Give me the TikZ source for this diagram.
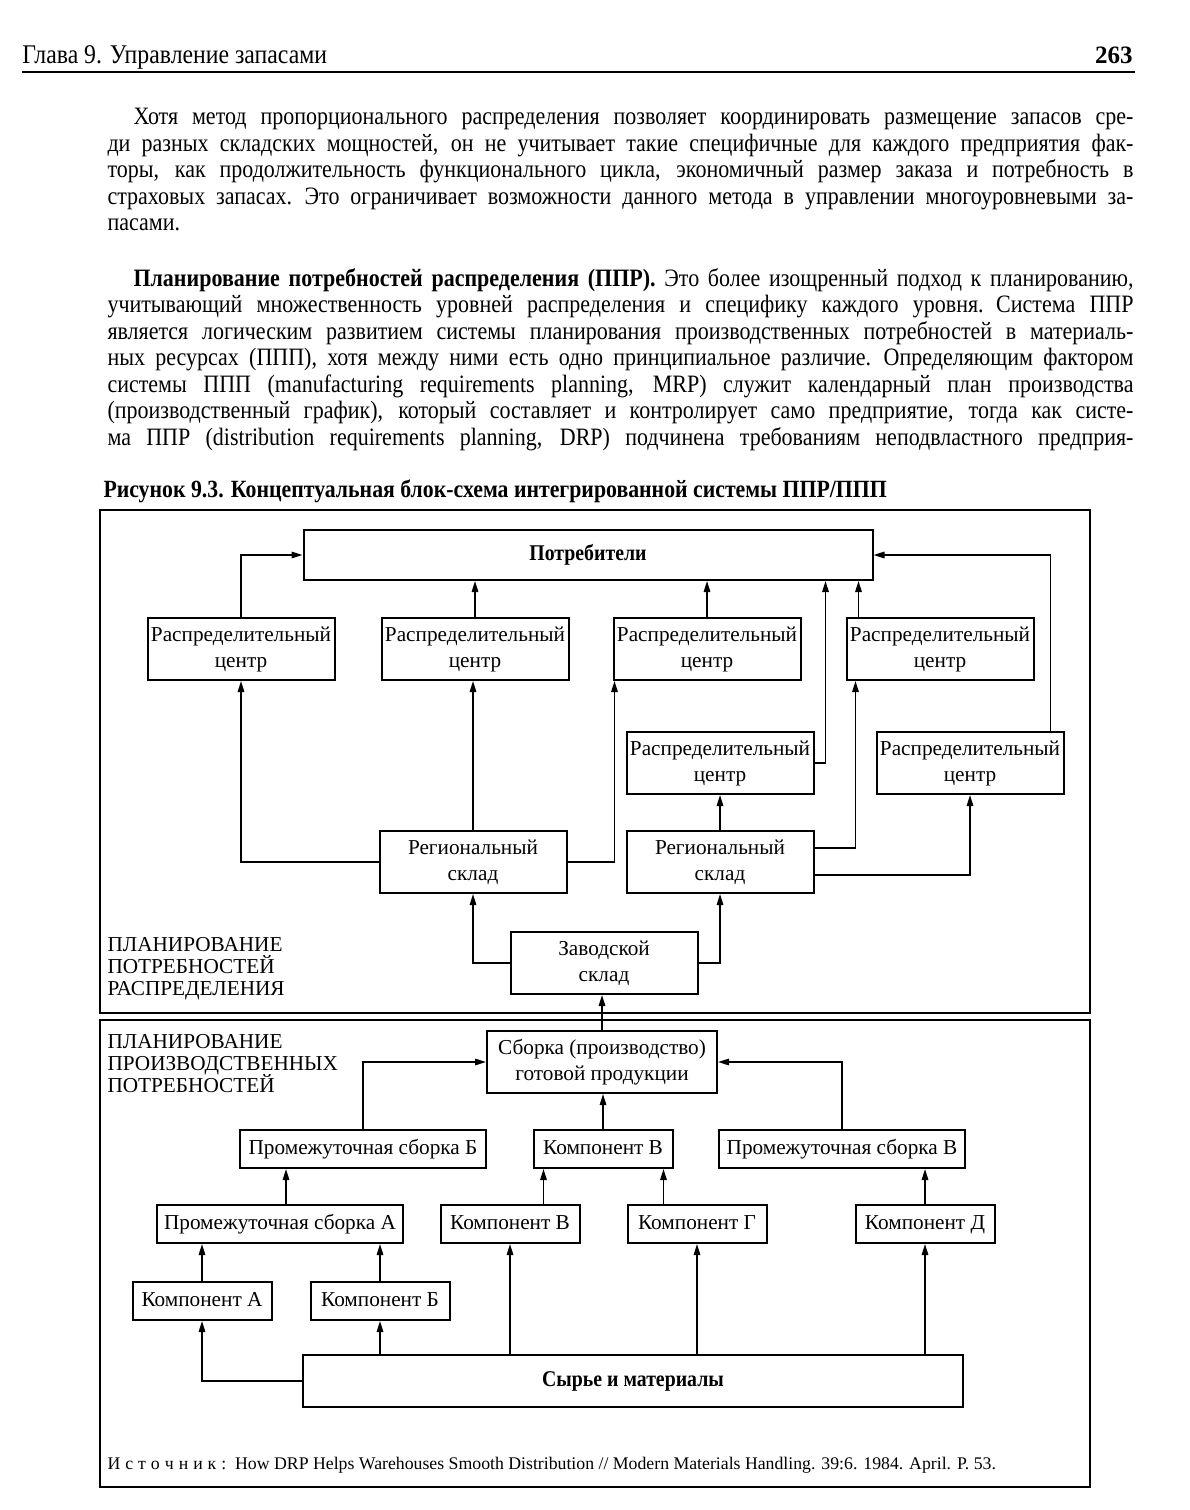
\documentclass[tikz,border=0pt]{standalone}
\usepackage{fontspec}
\setmainfont{Liberation Serif}
\newfontfamily\pagefont[FakeStretch=0.88]{Liberation Serif}
\usetikzlibrary{arrows.meta}
% one justified line of the page text
\newcommand\pline[1]{\noindent\hbox to 410.4pt{\spaceskip=0.25em plus 1em minus 0.08em\relax #1}\par}
\newcommand\pfirst[1]{\noindent\hbox to 410.4pt{\hskip 10.4pt\spaceskip=0.25em plus 1em minus 0.08em\relax #1}\par}
\newcommand\tightlines{\setlength{\lineskiplimit}{-6pt}}

\begin{document}
\begin{tikzpicture}[x=0.4pt,y=-0.4pt]
		\tikzstyle{Box} = [rectangle, draw=black, line width=0.8pt, fill=white, inner sep=1pt, align=center, font=\fontsize{8.5}{10.4}\selectfont]
		\tikzstyle{Center} = [Box, minimum width=74.8pt, minimum height=24.8pt]
		\tikzstyle{Part} = [Box, minimum width=55.6pt, minimum height=15.2pt, text height=6.2pt, text depth=1.8pt]
		\tikzstyle{SubAssy} = [Box, minimum width=98.4pt, minimum height=15.2pt, text height=6.2pt, text depth=1.8pt]
		\tikzstyle{Wide} = [Box, minimum height=20.8pt, font=\fontsize{9}{10.4}\selectfont\pagefont\bfseries]
		\tikzstyle{Label} = [anchor=north west, align=left, inner sep=0pt, font=\fontsize{8.5}{8.8}\selectfont\tightlines]
		\tikzstyle{Page} = [anchor=north west, text width=410.4pt, inner sep=0pt, font=\fontsize{10}{10.6}\selectfont\pagefont\tightlines]
		\tikzstyle{arrow} = [line width=0.6pt, -{Triangle[length=4.4pt,width=2.6pt]}]
		
		\useasboundingbox (0,0) rectangle (1190,1510);
		
		% page head and text
		\node (head) [anchor=base west, inner sep=0pt, font=\fontsize{10.8}{12}\selectfont\pagefont] at (22,64) {Глава 9. Управление запасами};
		\node (pageno) [anchor=base east, inner sep=0pt, font=\fontsize{10}{12}\selectfont\bfseries] at (1133,64) {263};
		\draw [line width=0.7pt] (22,72) -- (1135,72);
		\node (para1) [Page] at (107,108) {%
			\pfirst{Хотя метод пропорционального распределения позволяет координировать размещение запасов сре-}
			\pline{ди разных складских мощностей, он не учитывает такие специфичные для каждого предприятия фак-}
			\pline{торы, как продолжительность функционального цикла, экономичный размер заказа и потребность в}
			\pline{страховых запасах. Это ограничивает возможности данного метода в управлении многоуровневыми за-}
			\noindent пасами.\par};
		\node (para2) [Page] at (107,268) {%
			\pfirst{\textbf{Планирование потребностей распределения (ППР).} Это более изощренный подход к планированию,}
			\pline{учитывающий множественность уровней распределения и специфику каждого уровня. Система ППР}
			\pline{является логическим развитием системы планирования производственных потребностей в материаль-}
			\pline{ных ресурсах (ППП), хотя между ними есть одно принципиальное различие. Определяющим фактором}
			\pline{системы ППП (manufacturing requirements planning, MRP) служит календарный план производства}
			\pline{(производственный график), который составляет и контролирует само предприятие, тогда как систе-}
			\pline{ма ППР (distribution requirements planning, DRP) подчинена требованиям неподвластного предприя-}};
		\node (caption) [anchor=base west, inner sep=0pt, font=\fontsize{9.9}{12}\selectfont\pagefont\bfseries] at (103,497) {Рисунок 9.3. Концептуальная блок-схема интегрированной системы ППР/ППП};
		
		% two frames
		\draw [line width=0.7pt] (100,510) rectangle (1090,1013);
		\draw [line width=0.7pt] (100,1020) rectangle (1090,1487);
		\node (drpLabel) [Label] at (107,937) {ПЛАНИРОВАНИЕ\\ПОТРЕБНОСТЕЙ\\РАСПРЕДЕЛЕНИЯ};
		\node (mrpLabel) [Label] at (107,1034) {ПЛАНИРОВАНИЕ\\ПРОИЗВОДСТВЕННЫХ\\ПОТРЕБНОСТЕЙ};
		
		% distribution part
		\node (consumers) [Wide, minimum width=227.6pt, minimum height=20pt] at (588,555) {Потребители};
		\node (dc1) [Center] at (241,649) {Распределительный\\центр};
		\node (dc2) [Center] at (475,649) {Распределительный\\центр};
		\node (dc3) [Center] at (707,649) {Распределительный\\центр};
		\node (dc4) [Center] at (940,649) {Распределительный\\центр};
		\node (dc5) [Center] at (720,763) {Распределительный\\центр};
		\node (dc6) [Center] at (970,763) {Распределительный\\центр};
		\node (reg1) [Center] at (473,862) {Региональный\\склад};
		\node (reg2) [Center] at (720,862) {Региональный\\склад};
		\node (plant) [Center] at (604,963) {Заводской\\склад};
		
		\draw [arrow] (dc1.north) |- (consumers.west);
		\draw [arrow] (dc2.north) -- (dc2.north |- consumers.south);
		\draw [arrow] (dc3.north) -- (dc3.north |- consumers.south);
		\draw [arrow] (dc5.east) -| ([xshift=4.4pt]dc5.east |- consumers.south);
		\draw [arrow] ([xshift=5.2pt]dc4.north west) -- ([xshift=5.2pt]dc4.north west |- consumers.south);
		\draw [arrow] ([xshift=-5.6pt]dc6.north east) |- (consumers.east);
		\draw [arrow] (reg1.west) -| (dc1.south);
		\draw [arrow] (reg1.north) -- (reg1.north |- dc2.south);
		\draw [arrow] (reg1.east) -| ([xshift=0.8pt]dc3.south west);
		\draw [arrow] (reg2.north) -- (dc5.south);
		\draw [arrow] ([yshift=5.6pt]reg2.east) -| ([xshift=4pt]dc4.south west);
		\draw [arrow] ([yshift=-5.2pt]reg2.east) -| (dc6.south);
		\draw [arrow] (plant.west) -| (reg1.south);
		\draw [arrow] (plant.east) -| (reg2.south);
		
		% manufacturing part
		\node (assembly) [Box, minimum width=92pt, minimum height=24.8pt] at (602,1062) {Сборка (производство)\\готовой продукции};
		\node (subB) [SubAssy] at (363,1149) {Промежуточная сборка Б};
		\node (partV1) [Part] at (603,1149) {Компонент В};
		\node (subV) [SubAssy] at (842,1149) {Промежуточная сборка В};
		\node (subA) [SubAssy] at (280,1224) {Промежуточная сборка А};
		\node (partV2) [Part] at (510,1224) {Компонент В};
		\node (partG) [Part] at (697,1224) {Компонент Г};
		\node (partD) [Part] at (925,1224) {Компонент Д};
		\node (partA) [Part] at (202,1301) {Компонент А};
		\node (partB) [Part] at (380,1301) {Компонент Б};
		\node (raw) [Wide, minimum width=264pt] at (633,1381) {Сырье и материалы};
		
		\draw [arrow] (assembly.north) -- (assembly.north |- plant.south);
		\draw [arrow] (subB.north) |- (assembly.west);
		\draw [arrow] (subV.north) |- (assembly.east);
		\draw [arrow] (partV1.north) -- (partV1.north |- assembly.south);
		\draw [arrow] ([xshift=2.4pt]subA.north) -- ([xshift=2.4pt]subA.north |- subB.south);
		\draw [arrow] ([xshift=4.4pt]partV1.south west |- partV2.north) -- ([xshift=4.4pt]partV1.south west);
		\draw [arrow] ([xshift=-4pt]partV1.south east |- partG.north) -- ([xshift=-4pt]partV1.south east);
		\draw [arrow] (partD.north) -- (partD.north |- subV.south);
		\draw [arrow] (partA.north) -- (partA.north |- subA.south);
		\draw [arrow] (partB.north) -- (partB.north |- subA.south);
		\draw [arrow] (raw.west) -| (partA.south);
		\draw [arrow] (partB.south |- raw.north) -- (partB.south);
		\draw [arrow] (partV2.south |- raw.north) -- (partV2.south);
		\draw [arrow] (partG.south |- raw.north) -- (partG.south);
		\draw [arrow] (partD.south |- raw.north) -- (partD.south);
		
		\node (source) [anchor=base west, inner sep=0pt, font=\fontsize{7.1}{9}\selectfont] at (107,1469) {И\kern2pt с\kern2pt т\kern2pt о\kern2pt ч\kern2pt н\kern2pt и\kern2pt к\kern2pt :\ \ How DRP Helps Warehouses Smooth Distribution // Modern Materials Handling. 39:6. 1984. April. P. 53.};
\end{tikzpicture}
\end{document}
